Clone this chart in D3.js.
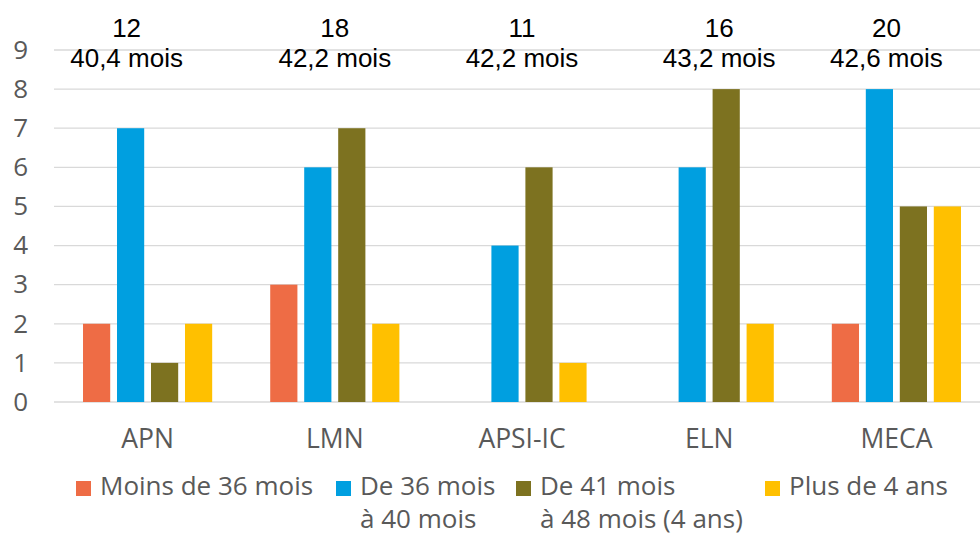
<!DOCTYPE html>
<html>
<head>
<meta charset="utf-8">
<script src="https://cdn.jsdelivr.net/npm/d3@7.9.0/dist/d3.min.js"></script>
<style>
  html, body { margin: 0; padding: 0; background: #fff; }
  svg { display: block; }
</style>
</head>
<body>
<svg id="chart" width="980" height="536"></svg>
<script>
// data
const categories = ['APN', 'LMN', 'APSI-IC', 'ELN', 'MECA'];
const seriesNames = [
  ['Moins de 36 mois'],
  ['De 36 mois', 'à 40 mois'],
  ['De 41 mois', 'à 48 mois (4 ans)'],
  ['Plus de 4 ans']
];
const moins36 = [2, 3, 0, 0, 2];
const de36a40 = [7, 6, 4, 6, 8];
const de41a48 = [1, 7, 6, 8, 5];
const plus4ans = [2, 2, 1, 2, 5];
const effectifs = ['12', '18', '11', '16', '20'];
const dureeMoyenne = ['40,4 mois', '42,2 mois', '42,2 mois', '43,2 mois', '42,6 mois'];
const yTicks = [0, 1, 2, 3, 4, 5, 6, 7, 8, 9];

const seriesValues = [moins36, de36a40, de41a48, plus4ans];
const colors = ['#ee6c45', '#009fe0', '#7d7220', '#ffc000'];

// layout
const width = 980, height = 536;
const plot = { left: 54, right: 990, top: 50, bottom: 402 };
const labelNudge = [-21, 0, 0, 10, -10];   // annotation boxes sit slightly off-centre
const legendX = [76, 336, 516, 765];

const svg = d3.select('#chart');

const x0 = d3.scaleBand()
  .domain(categories)
  .range([plot.left, plot.right])
  .paddingInner(0.31)
  .paddingOuter(0.155);

const x1 = d3.scaleBand()
  .domain(d3.range(seriesValues.length))
  .range([0, x0.bandwidth()])
  .paddingInner(0.2);

const y = d3.scaleLinear()
  .domain([0, 9])
  .range([plot.bottom, plot.top]);

// gridlines
svg.append('g')
  .selectAll('line')
  .data(yTicks)
  .join('line')
  .attr('x1', plot.left)
  .attr('x2', width)
  .attr('y1', d => y(d))
  .attr('y2', d => y(d))
  .attr('stroke', '#d9d9d9')
  .attr('stroke-width', 1.3);

// y labels
const yAxis = d3.axisLeft(y).tickValues(yTicks).tickSize(0).tickPadding(0);
const gy = svg.append('g')
  .attr('transform', 'translate(28,0)')
  .call(yAxis);
gy.select('.domain').remove();
gy.selectAll('text')
  .attr('fill', '#595959')
  .style('font-family', '"Open Sans", sans-serif')
  .style('font-size', '26px');

// bars
const groups = svg.append('g')
  .selectAll('g')
  .data(categories)
  .join('g')
  .attr('transform', d => `translate(${x0(d)},0)`);

groups.selectAll('rect')
  .data((d, i) => seriesValues.map((s, k) => ({ k, v: s[i] })))
  .join('rect')
  .attr('x', d => x1(d.k))
  .attr('width', x1.bandwidth())
  .attr('y', d => y(d.v))
  .attr('height', d => y(0) - y(d.v))
  .attr('fill', d => colors[d.k]);

// category labels
const xAxis = d3.axisBottom(x0).tickSize(0).tickPadding(0);
const gx = svg.append('g')
  .attr('transform', 'translate(0,448)')
  .call(xAxis);
gx.select('.domain').remove();
gx.selectAll('text')
  .attr('fill', '#595959')
  .attr('dy', 0)
  .style('font-family', '"Open Sans", sans-serif')
  .style('font-size', '26.5px');

// annotations above the groups
const notes = svg.append('g')
  .style('font-family', '"Liberation Sans", Arial, sans-serif')
  .style('font-size', '26px')
  .attr('fill', '#000')
  .attr('text-anchor', 'middle');

categories.forEach((c, i) => {
  const cx = x0(c) + x0.bandwidth() / 2 + labelNudge[i];
  notes.append('text').attr('x', cx).attr('y', 37).text(effectifs[i]);
  notes.append('text').attr('x', cx).attr('y', 67).text(dureeMoyenne[i]);
});

// legend
const legend = svg.append('g')
  .style('font-family', '"Open Sans", sans-serif')
  .style('font-size', '26px')
  .attr('fill', '#595959');

seriesNames.forEach((lines, k) => {
  const item = legend.append('g').attr('transform', `translate(${legendX[k]},0)`);
  item.append('rect')
    .attr('x', 0).attr('y', 481)
    .attr('width', 15).attr('height', 15)
    .attr('fill', colors[k]);
  lines.forEach((t, j) => {
    item.append('text')
      .attr('x', 24)
      .attr('y', 495 + j * 33)
      .text(t);
  });
});
</script>
</body>
</html>
